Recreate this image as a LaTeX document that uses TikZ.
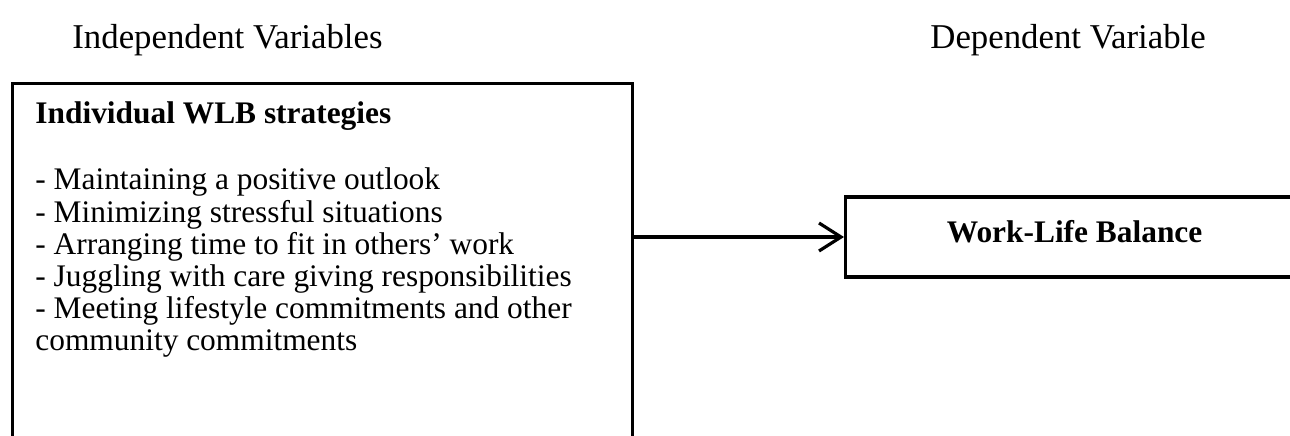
\documentclass[tikz,border=0pt]{standalone}
\usepackage{fontspec}
\setmainfont{Liberation Serif}
\usetikzlibrary{arrows.meta,positioning}

\begin{document}
\begin{tikzpicture}[x=0.5pt,y=-0.5pt,
    frame/.style={draw,line width=1.6pt,inner sep=0pt},
    heading/.style={anchor=base west,inner sep=0pt,font=\fontsize{17.4}{20}\selectfont},
    boldtext/.style={inner sep=0pt,font=\fontsize{15.7}{20}\selectfont\bfseries},
    link/.style={-{Straight Barb[length=11pt,width=14pt,line width=1.6pt]},line width=1.6pt}]

  \useasboundingbox (0,0) rectangle (1290,435);
  \clip (0,0) rectangle (1290,435);

  \node[heading] (indep) at (72,48)  {Independent Variables};
  \node[heading] (dep)   at (930,48) {Dependent Variable};

  \node[frame,anchor=north west,minimum width=310pt,minimum height=200pt] (strat) at (11,82) {};
  \node[boldtext,anchor=base west] (title) at (35,123) {Individual WLB strategies};
  \node[anchor=north west,inner sep=0pt,align=left,font=\fontsize{15.7}{16.1}\selectfont] (list) at (35,167)
    {\strut- Maintaining a positive outlook\\
     - Minimizing stressful situations\\
     - Arranging time to fit in others’ work\\
     - Juggling with care giving responsibilities\\
     - Meeting lifestyle commitments and other\\
     community commitments};

  \node[frame,boldtext,anchor=west,minimum width=229pt,minimum height=40pt,text depth=6pt] (wlb) at (844,237) {Work-Life Balance};

  \draw[link] (strat.east |- wlb.west) -- (wlb.west);
\end{tikzpicture}
\end{document}
